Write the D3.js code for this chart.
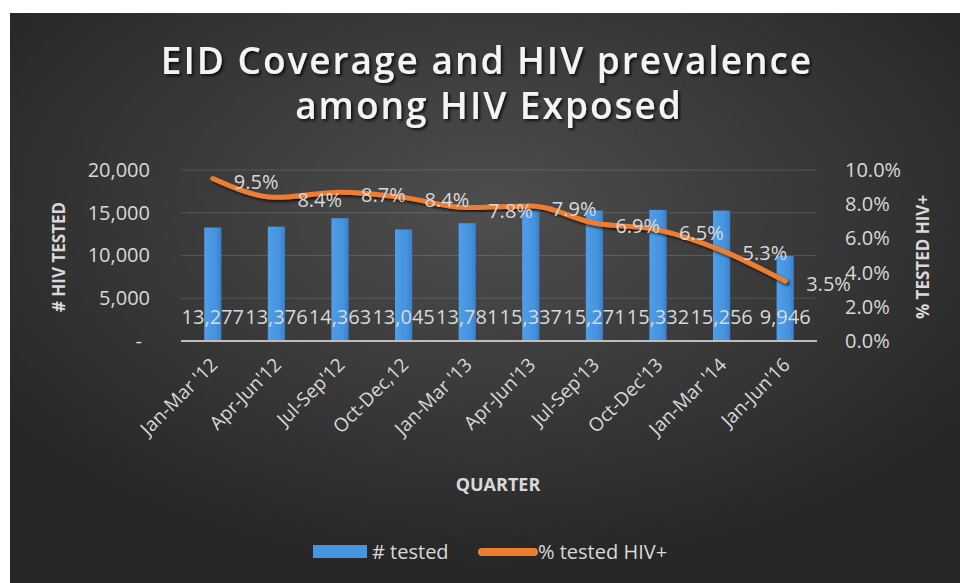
<!DOCTYPE html>
<html>
<head>
<meta charset="utf-8">
<script src="https://cdn.jsdelivr.net/npm/d3@7"></script>
<style>
  body { margin: 0; background: #fff; }
  svg { display: block; }
  text { font-family: "Open Sans", "DejaVu Sans", sans-serif; }
</style>
</head>
<body>
<div class="chart"></div>
<script>
// data
const quarters = ["Jan-Mar '12", "Apr-Jun'12", "Jul-Sep'12", "Oct-Dec,12", "Jan-Mar '13",
                  "Apr-Jun'13", "Jul-Sep'13", "Oct-Dec'13", "Jan-Mar '14", "Jan-Jun'16"];
const tested = [13277, 13376, 14363, 13045, 13781, 15337, 15271, 15332, 15256, 9946];
const pctPositive = [0.095, 0.084, 0.087, 0.084, 0.078, 0.079, 0.069, 0.065, 0.053, 0.035];
const leftTicks = [0, 5000, 10000, 15000, 20000];
const rightTicks = [0, 0.02, 0.04, 0.06, 0.08, 0.10];

const W = 960, H = 583;
const plot = { left: 181, right: 817, top: 170, bottom: 341 };
const textCol = "#d9d9d9";

const svg = d3.select(".chart").append("svg")
    .attr("width", W)
    .attr("height", H);

const defs = svg.append("defs");
const bg = defs.append("radialGradient")
    .attr("id", "bg")
    .attr("cx", "50%").attr("cy", "35%").attr("r", "62%");
bg.append("stop").attr("offset", "0%").attr("stop-color", "#4e4e4e");
bg.append("stop").attr("offset", "100%").attr("stop-color", "#272727");

const shadow = defs.append("filter").attr("id", "shadow")
    .attr("x", "-10%").attr("y", "-20%").attr("width", "120%").attr("height", "160%");
shadow.append("feDropShadow")
    .attr("dx", 2).attr("dy", 2).attr("stdDeviation", 1.5)
    .attr("flood-color", "#000").attr("flood-opacity", 0.75);

const barGrad = defs.append("linearGradient")
    .attr("id", "barGrad").attr("x1", 0).attr("x2", 1).attr("y1", 0).attr("y2", 0);
barGrad.append("stop").attr("offset", "0%").attr("stop-color", "#4f9ee8");
barGrad.append("stop").attr("offset", "70%").attr("stop-color", "#4592de");
barGrad.append("stop").attr("offset", "100%").attr("stop-color", "#3a80c8");

// panel
svg.append("rect")
    .attr("x", 10).attr("y", 13)
    .attr("width", W - 10).attr("height", H - 13)
    .attr("fill", "url(#bg)");

// title
const title = svg.append("g").attr("filter", "url(#shadow)")
    .attr("fill", "#f4f4f4")
    .attr("font-size", 37)
    .attr("font-weight", 600)
    .attr("text-anchor", "middle");
title.append("text").attr("x", 487).attr("y", 74)
    .attr("letter-spacing", 2)
    .text("EID Coverage and HIV prevalence");
title.append("text").attr("x", 489).attr("y", 119)
    .attr("letter-spacing", 2)
    .text("among HIV Exposed");

// scales
const x = d3.scaleBand()
    .domain(quarters)
    .range([plot.left, plot.right])
    .paddingInner(0.73)
    .paddingOuter(0.365);

const yLeft = d3.scaleLinear()
    .domain([0, 20000])
    .range([plot.bottom, plot.top]);

const yRight = d3.scaleLinear()
    .domain([0, 0.10])
    .range([plot.bottom, plot.top]);

const cx = d => x(d) + x.bandwidth() / 2;

// gridlines
svg.append("g")
    .selectAll("line")
    .data(leftTicks.filter(d => d > 0))
    .enter()
    .append("line")
    .attr("x1", plot.left).attr("x2", plot.right)
    .attr("y1", d => yLeft(d)).attr("y2", d => yLeft(d))
    .attr("stroke", "#ffffff").attr("stroke-opacity", 0.14)
    .attr("stroke-width", 1);

// left axis
const leftAxis = svg.append("g")
    .attr("transform", `translate(${plot.left - 28},0)`)
    .call(d3.axisLeft(yLeft).tickValues(leftTicks).tickSize(0)
        .tickFormat(d => d === 0 ? "-" : d3.format(",")(d)));
leftAxis.select(".domain").remove();
leftAxis.selectAll("text")
    .attr("fill", textCol)
    .attr("font-size", 20)
    .attr("dx", d => d === 0 ? -8 : 0);

// right axis
const rightAxis = svg.append("g")
    .attr("transform", `translate(${plot.right + 25},0)`)
    .call(d3.axisRight(yRight).tickValues(rightTicks).tickSize(0)
        .tickFormat(d3.format(".1%")));
rightAxis.select(".domain").remove();
rightAxis.selectAll("text")
    .attr("fill", textCol)
    .attr("font-size", 20);

// bars
svg.append("g")
    .selectAll("rect")
    .data(tested)
    .enter()
    .append("rect")
    .attr("x", (d, i) => x(quarters[i]))
    .attr("y", d => yLeft(d))
    .attr("width", x.bandwidth())
    .attr("height", d => plot.bottom - yLeft(d))
    .attr("fill", "url(#barGrad)");

// baseline
svg.append("line")
    .attr("x1", plot.left).attr("x2", plot.right)
    .attr("y1", plot.bottom).attr("y2", plot.bottom)
    .attr("stroke", "#bdbdbd").attr("stroke-width", 2);

// bar value labels
svg.append("g")
    .selectAll("text")
    .data(tested)
    .enter()
    .append("text")
    .attr("x", (d, i) => cx(quarters[i]))
    .attr("y", 317)
    .attr("dy", "0.35em")
    .attr("text-anchor", "middle")
    .attr("fill", textCol)
    .attr("font-size", 20)
    .text(d => d3.format(",")(d));

// line
const line = d3.line()
    .x((d, i) => cx(quarters[i]))
    .y(d => yRight(d))
    .curve(d3.curveMonotoneX);

svg.append("path")
    .datum(pctPositive)
    .attr("d", line)
    .attr("fill", "none")
    .attr("stroke", "#ed7d31")
    .attr("stroke-width", 5)
    .attr("stroke-linecap", "round")
    .attr("stroke-linejoin", "round")
    .attr("filter", "url(#shadow)");

// line labels, to the right of each point
svg.append("g")
    .selectAll("text")
    .data(pctPositive)
    .enter()
    .append("text")
    .attr("x", (d, i) => cx(quarters[i]) + 21)
    .attr("y", d => yRight(d) + 3)
    .attr("dy", "0.35em")
    .attr("fill", textCol)
    .attr("font-size", 20)
    .text(d => d3.format(".1%")(d));

// x labels
svg.append("g")
    .selectAll("text")
    .data(quarters)
    .enter()
    .append("text")
    .attr("transform", d => `translate(${cx(d) + 6},${366}) rotate(-45)`)
    .attr("text-anchor", "end")
    .attr("fill", textCol)
    .attr("font-size", 19)
    .text(d => d);

// axis titles
svg.append("text")
    .attr("transform", "translate(65,257) rotate(-90)")
    .attr("text-anchor", "middle")
    .attr("fill", textCol)
    .attr("font-size", 17)
    .attr("font-weight", 700)
    .text("# HIV TESTED");

svg.append("text")
    .attr("transform", "translate(929,257) rotate(-90)")
    .attr("text-anchor", "middle")
    .attr("fill", textCol)
    .attr("font-size", 17)
    .attr("font-weight", 700)
    .text("% TESTED HIV+");

svg.append("text")
    .attr("x", 498).attr("y", 491)
    .attr("text-anchor", "middle")
    .attr("fill", textCol)
    .attr("font-size", 18)
    .attr("font-weight", 700)
    .text("QUARTER");

// legend
const legend = svg.append("g");
legend.append("rect")
    .attr("x", 313).attr("y", 545)
    .attr("width", 54).attr("height", 13)
    .attr("fill", "#4596e0");
legend.append("text")
    .attr("x", 372).attr("y", 559)
    .attr("fill", textCol)
    .attr("font-size", 20)
    .text("# tested");
legend.append("line")
    .attr("x1", 482).attr("x2", 534)
    .attr("y1", 552).attr("y2", 552)
    .attr("stroke", "#ed7d31")
    .attr("stroke-width", 8)
    .attr("stroke-linecap", "round");
legend.append("text")
    .attr("x", 538).attr("y", 559)
    .attr("fill", textCol)
    .attr("font-size", 20)
    .text("% tested HIV+");
</script>
</body>
</html>
